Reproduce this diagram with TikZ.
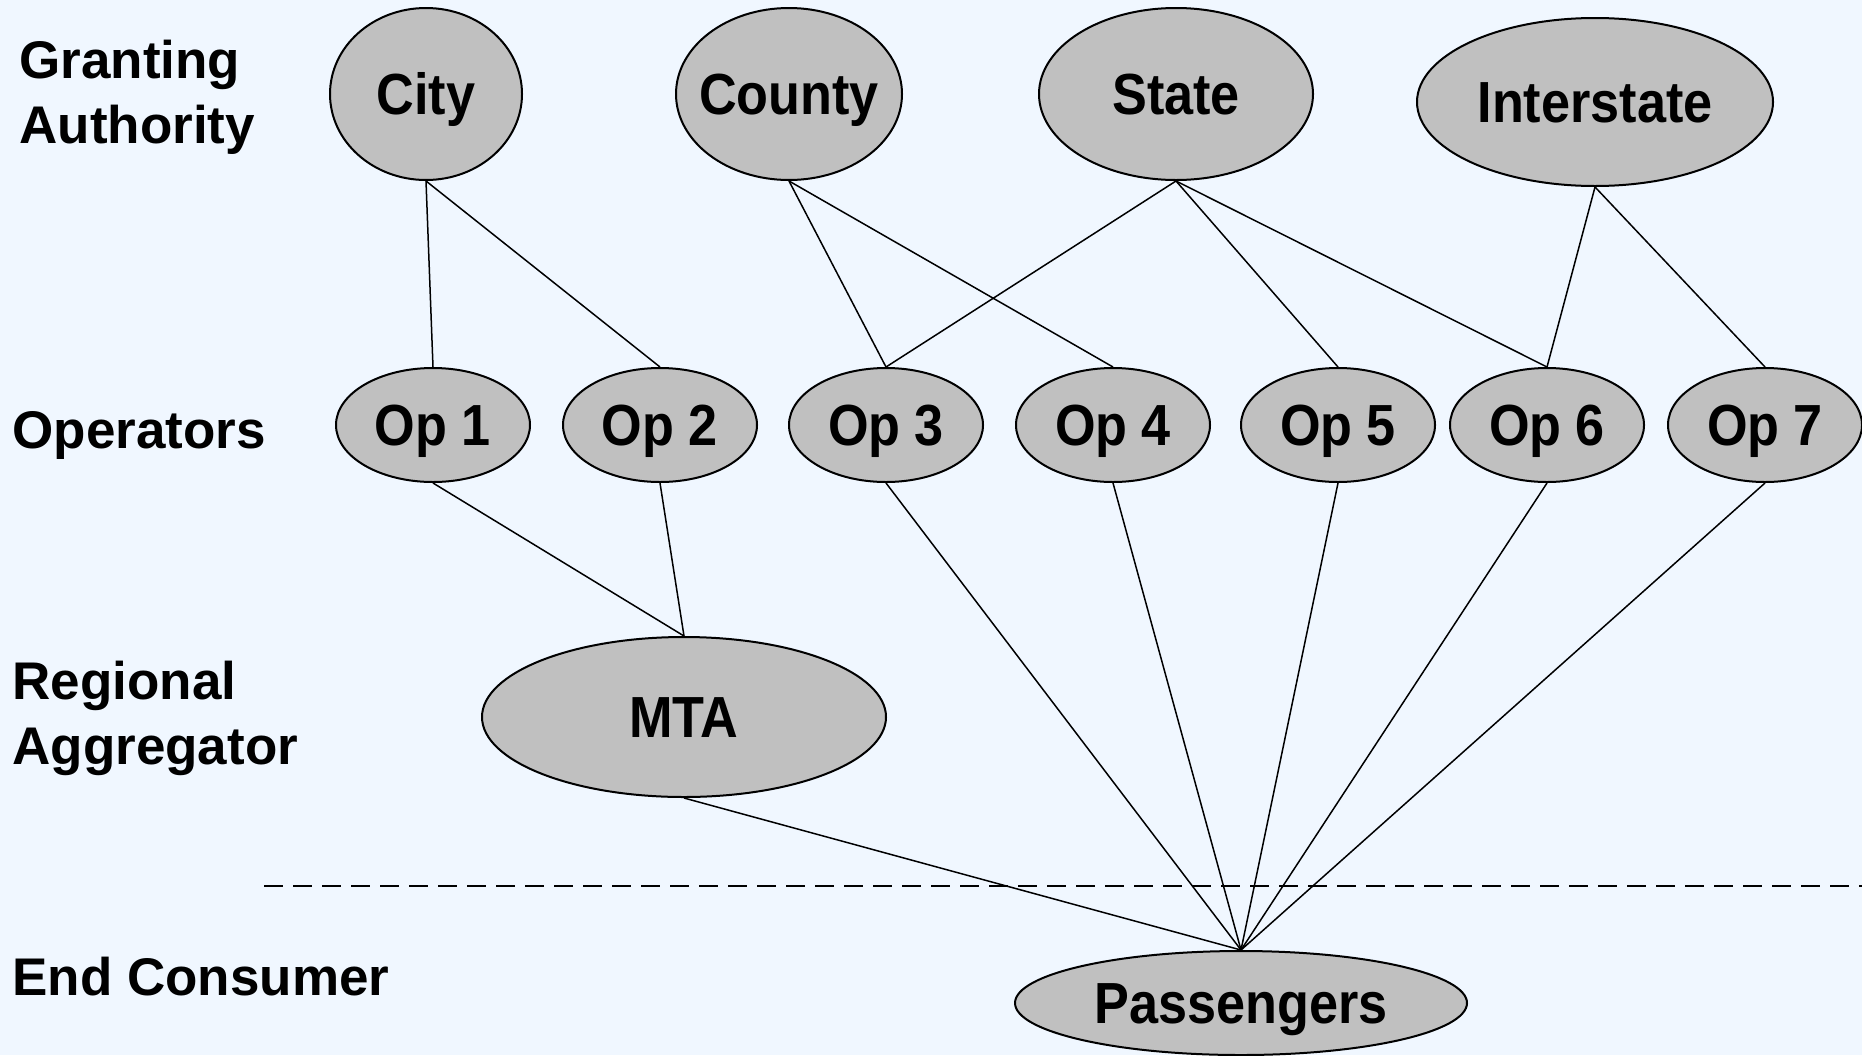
\documentclass[tikz,border=0pt]{standalone}
\usepackage{fontspec}
\setmainfont{Liberation Sans}
\newfontfamily\nodefont[FakeStretch=0.9]{Liberation Sans}
\usetikzlibrary{shapes.geometric}
\definecolor{bgblue}{HTML}{F0F7FF}
\definecolor{nodegray}{HTML}{C0C0C0}
\begin{document}
\begin{tikzpicture}[x=0.5pt,y=-0.5pt,
  ell/.style={ellipse, draw=black, line width=1pt, fill=nodegray, inner sep=-12pt,
    text height=20.8pt, text depth=0pt,
    font=\nodefont\bfseries\fontsize{29}{34}\selectfont},
  lbl/.style={anchor=base west, align=left, inner sep=0pt,
    font=\bfseries\fontsize{26.5}{32.5}\selectfont},
  link/.style={line width=0.75pt},
  divider/.style={line width=1.2pt, dash pattern=on 9.5pt off 5pt}]
\fill[bgblue] (0,0) rectangle (1862,1055);
\useasboundingbox (0,0) rectangle (1862,1055);

% labels (base anchor = baseline of the last line)
\node[lbl] (ga) at (19,143) {Granting\\Authority};
\node[lbl] (opl) at (12,448) {Operators};
\node[lbl] (ra) at (12,764) {Regional\\Aggregator};
\node[lbl] (ec) at (12,995) {End Consumer};

% granting authorities
\node[ell, minimum width=96pt, minimum height=86pt] (city) at (426,94) {City};
\node[ell, minimum width=113pt, minimum height=86pt] (county) at (789,94) {County};
\node[ell, minimum width=137pt, minimum height=86pt] (state) at (1176,94) {State};
\node[ell, minimum width=178pt, minimum height=84pt] (inter) at (1595,102) {Interstate};

% operators
\foreach \n/\x in {1/433,2/660,3/886,4/1113,5/1338,6/1547,7/1765}
  \node[ell, minimum width=97pt, minimum height=57pt] (op\n) at (\x,425) {Op \n};

% aggregator and consumer
\node[ell, minimum width=202pt, minimum height=80pt] (mta) at (684,717) {MTA};
\node[ell, minimum width=226pt, minimum height=52pt] (pass) at (1241,1003) {Passengers};

% divider
\coordinate (dl) at (264,886);
\coordinate (dr) at (1862,886);
\draw[divider] (dl) -- (dr);

% links
\draw[link] (city.south) -- (op1.north);
\draw[link] (city.south) -- (op2.north);
\draw[link] (county.south) -- (op3.north);
\draw[link] (county.south) -- (op4.north);
\draw[link] (state.south) -- (op3.north);
\draw[link] (state.south) -- (op5.north);
\draw[link] (state.south) -- (op6.north);
\draw[link] (inter.south) -- (op6.north);
\draw[link] (inter.south) -- (op7.north);
\draw[link] (op1.south) -- (mta.north);
\draw[link] (op2.south) -- (mta.north);
\draw[link] (mta.south) -- (pass.north);
\foreach \n in {3,4,5,6,7}
  \draw[link] (op\n.south) -- (pass.north);
\end{tikzpicture}
\end{document}
